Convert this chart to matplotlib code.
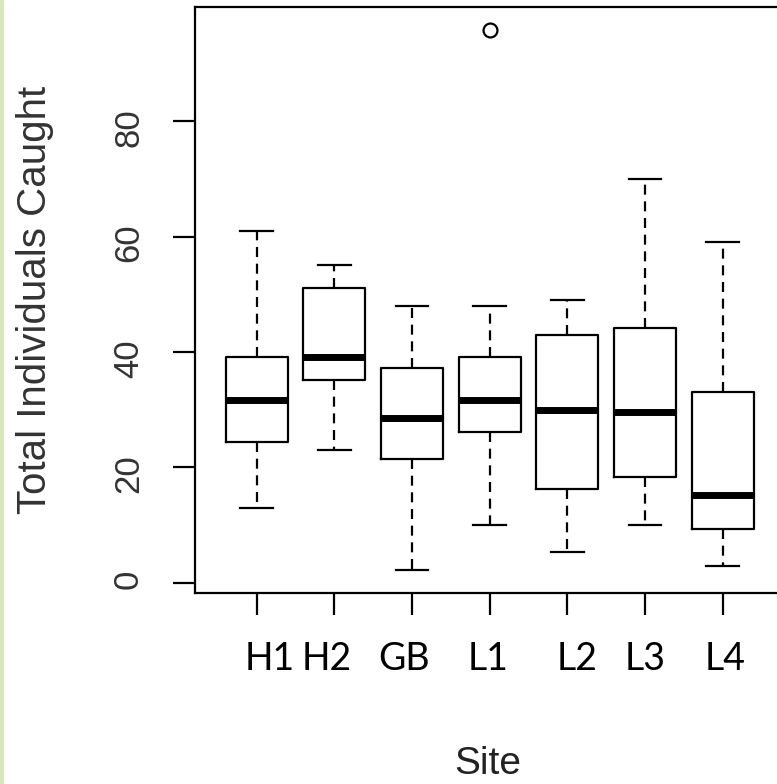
import matplotlib.pyplot as plt
from matplotlib.patches import Rectangle

plt.rcParams['font.family'] = ['Liberation Sans', 'DejaVu Sans']

sites = ['H1', 'H2', 'GB', 'L1', 'L2', 'L3', 'L4']
whis_lo = [13, 23, 2.3, 10, 5.3, 10, 3]
q1 = [24.4, 35.1, 21.4, 26.1, 16.2, 18.3, 9.3]
med = [31.6, 39.1, 28.6, 31.7, 30.0, 29.6, 15.3]
q3 = [39.1, 51.1, 37.3, 39.1, 42.9, 44.2, 33.1]
whis_hi = [61, 55, 48, 48, 49, 70, 59]
outliers = [[], [], [], [95.7], [], [], []]
# the site labels were typed in by hand, a bit off the ticks
label_pos = [1.166, 1.90, 2.897, 3.985, 5.12, 6.0, 7.026]

stats = []
for i in range(len(sites)):
    stats.append(dict(label=sites[i], whislo=whis_lo[i], q1=q1[i], med=med[i],
                      q3=q3[i], whishi=whis_hi[i], fliers=outliers[i]))

fig = plt.figure(figsize=(7.77, 7.84), dpi=100)
ax = fig.add_axes([195/777, 1 - 593/784, (777 - 195)/777, (593 - 7)/784])

ax.bxp(stats, positions=range(1, 8), widths=0.8, capwidths=0.42,
       boxprops=dict(color='black', linewidth=1.6),
       medianprops=dict(color='black', linewidth=5, solid_capstyle='butt'),
       whiskerprops=dict(color='black', linewidth=1.6, linestyle=(0, (4.5, 3))),
       capprops=dict(color='black', linewidth=1.6),
       flierprops=dict(marker='o', markerfacecolor='none', markeredgecolor='black',
                       markersize=10, markeredgewidth=1.6))

ax.set_xlim(0.2054, 7.70)
ax.set_ylim(-1.76, 99.76)
ax.spines['right'].set_visible(False)
for s in ['left', 'top', 'bottom']:
    ax.spines[s].set_linewidth(1.6)

ax.set_yticks([0, 20, 40, 60, 80])
ax.set_xticks(range(1, 8))
ax.set_xticklabels([])
ax.tick_params(length=16, width=1.6, direction='out')
ax.tick_params(axis='y', labelsize=25, labelrotation=90, pad=20, labelcolor='#333333')

for s, x in zip(sites, label_pos):
    ax.text(x, -0.1126, s, transform=ax.get_xaxis_transform(), ha='center', va='center',
            fontfamily='Lato', fontsize=27, color='black')

fig.text(35/777, 1 - 300/784, 'Total Individuals Caught', rotation=90, ha='center',
         va='center', fontsize=29, color='#333333')
fig.text(488/777, 1 - 764/784, 'Site', ha='center', va='center', fontsize=28, color='#222222')

fig.patches.append(Rectangle((0, 0), 3/777, 1, transform=fig.transFigure,
                             color='#d9e5be', zorder=0))

plt.savefig('out.png', dpi=100)
